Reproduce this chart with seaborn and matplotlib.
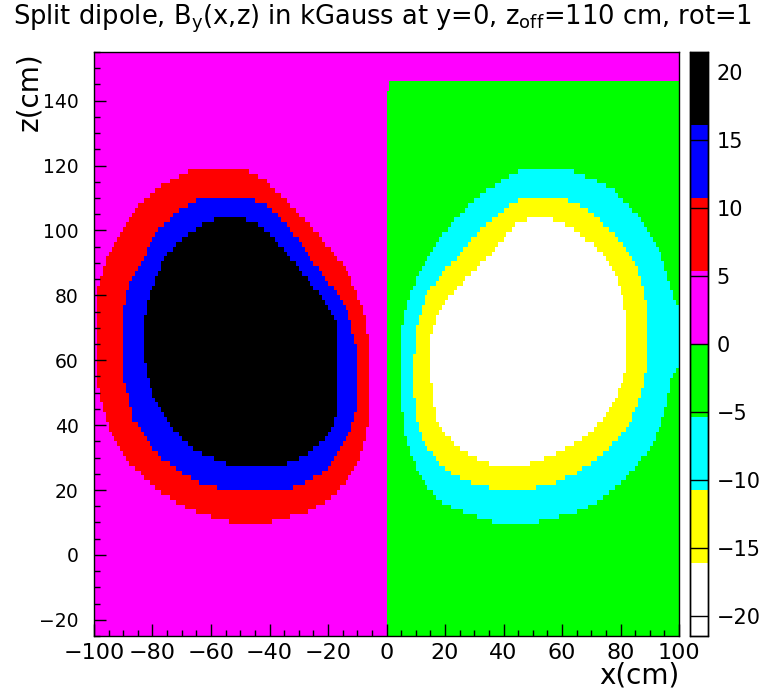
import numpy as np
import pandas as pd
import matplotlib
matplotlib.use("Agg")
import matplotlib.pyplot as plt
from matplotlib.colors import ListedColormap
from matplotlib.path import Path
from matplotlib.ticker import MultipleLocator
import seaborn as sns

# ---- data ----------------------------------------------------------------
# colour bands of the palette (from -21.44 to 21.44 kGauss, 8 equal bands)
b_min, b_max = -21.44, 21.44
band_colors = ["#ffffff", "#ffff00", "#00ffff", "#00ff00",
               "#ff00ff", "#ff0000", "#0000ff", "#000000"]
band_values = [-18.76, -13.40, -8.04, -2.68, 2.68, 8.04, 13.40, 18.76]

# binning of the map (cm)
x_range = (-100.0, 100.0)
z_range = (-25.0, 155.0)
x_binwidth = 1.0
z_binwidth = 1.5

# top of the negative (green) half, above it the field is back to 0..5
green_top_z = 146.0
green_top_z_first_col = 143.0

# contour outlines (x, z) in cm, left lobe (positive field)
outline_red = [(-61.5, 119.7), (-52.4, 119.7), (-47.8, 118.5), (-42.1, 115.9), (-37.6, 111.8),
               (-33.0, 108.1), (-28.4, 103.5), (-22.7, 98.3), (-19.3, 94.1), (-14.8, 89.5),
               (-11.3, 83.2), (-9.1, 78.1), (-7.4, 73.9), (-6.2, 66.6), (-5.6, 59.4),
               (-5.6, 43.8), (-6.8, 38.7), (-7.9, 32.4), (-10.2, 28.3), (-13.6, 23.1),
               (-17.0, 19.0), (-21.6, 15.9), (-27.3, 13.3), (-33.0, 11.7), (-39.8, 10.1),
               (-53.5, 10.1), (-61.5, 12.2), (-69.5, 14.8), (-76.3, 19.0), (-82.0, 23.1),
               (-86.6, 27.2), (-91.1, 32.4), (-94.5, 38.7), (-96.8, 44.9), (-98.5, 51.1),
               (-99.3, 59.4), (-99.3, 80.1), (-98.0, 85.3), (-95.7, 91.5), (-93.4, 95.7),
               (-90.0, 100.9), (-86.6, 106.0), (-82.0, 110.2), (-77.4, 113.3), (-72.9, 115.9),
               (-67.2, 118.5)]
outline_blue = [(-62.6, 110.2), (-55.8, 110.7), (-49.0, 110.7), (-44.4, 109.2), (-39.8, 107.1),
                (-35.3, 102.9), (-30.7, 97.8), (-27.3, 92.6), (-22.7, 87.4), (-18.2, 82.2),
                (-14.8, 78.1), (-12.5, 72.9), (-11.3, 67.7), (-10.2, 63.5), (-10.2, 44.9),
                (-11.3, 40.7), (-13.6, 36.6), (-17.0, 30.4), (-20.5, 26.2), (-26.2, 23.1),
                (-33.0, 20.5), (-42.1, 19.5), (-50.1, 19.5), (-56.9, 20.5), (-64.9, 22.6),
                (-71.7, 26.2), (-77.4, 30.4), (-82.0, 35.5), (-86.6, 41.8), (-88.3, 49.0),
                (-90.0, 55.2), (-90.5, 59.4), (-90.5, 73.9), (-88.8, 80.1), (-87.7, 84.3),
                (-85.4, 88.4), (-83.1, 91.5), (-80.3, 96.7), (-77.4, 100.9), (-73.5, 104.0),
                (-69.5, 107.1), (-65.5, 109.2)]
outline_black = [(-58.1, 103.5), (-49.0, 103.5), (-44.4, 101.9), (-39.8, 98.8), (-35.3, 94.6),
                 (-31.9, 90.5), (-27.3, 85.3), (-22.7, 80.1), (-19.3, 76.0), (-17.0, 70.8),
                 (-16.5, 65.6), (-16.5, 44.9), (-18.2, 39.7), (-20.5, 36.6), (-25.0, 32.4),
                 (-30.7, 29.3), (-37.6, 27.2), (-50.1, 27.2), (-56.9, 28.8), (-63.8, 31.4),
                 (-69.5, 35.5), (-74.0, 39.7), (-77.4, 44.9), (-79.7, 49.0), (-81.4, 54.2),
                 (-82.6, 59.4), (-83.1, 69.8), (-82.0, 77.0), (-79.7, 83.2), (-77.4, 88.4),
                 (-74.0, 93.6), (-70.6, 96.7), (-66.0, 99.8), (-62.1, 102.4)]

# right lobe (negative field)
outline_cyan = [(50.2, 119.7), (60.5, 119.7), (65.0, 118.0), (71.9, 115.4), (77.6, 112.3),
                (81.0, 109.2), (85.5, 105.0), (89.0, 100.9), (92.4, 95.7), (94.6, 90.5),
                (96.4, 85.3), (98.1, 80.1), (100.5, 73.9), (100.5, 59.4), (97.5, 54.2),
                (95.8, 47.0), (93.5, 39.7), (91.2, 34.5), (87.8, 30.4), (83.3, 25.2),
                (78.7, 21.0), (73.0, 16.9), (67.3, 13.8), (60.5, 12.2), (51.3, 10.1),
                (36.5, 10.1), (30.8, 11.7), (24.0, 13.8), (19.4, 15.9), (14.9, 20.0),
                (11.5, 24.1), (8.6, 30.4), (6.3, 36.6), (5.5, 43.8), (4.8, 53.2),
                (4.8, 59.4), (5.5, 70.8), (6.9, 77.0), (8.6, 81.2), (10.3, 85.3),
                (12.6, 89.5), (16.0, 94.6), (19.4, 98.8), (24.0, 104.0), (28.6, 108.1),
                (32.0, 111.2), (37.7, 114.3), (44.5, 118.0)]
outline_yellow = [(49.6, 110.7), (58.2, 110.7), (63.9, 108.6), (69.6, 106.0), (74.1, 101.9),
                  (78.7, 97.8), (83.3, 92.6), (85.5, 88.4), (87.2, 84.3), (88.4, 79.1),
                  (88.9, 74.9), (88.9, 57.3), (87.8, 52.1), (85.5, 45.9), (83.3, 40.7),
                  (79.8, 36.6), (75.3, 32.4), (69.6, 28.3), (65.0, 25.2), (55.9, 21.5),
                  (49.1, 20.5), (35.4, 20.5), (29.7, 22.1), (24.0, 24.1), (18.3, 28.3),
                  (13.7, 33.5), (10.9, 38.7), (9.7, 44.9), (9.4, 51.1), (9.4, 61.5),
                  (10.3, 69.8), (12.0, 76.0), (13.7, 80.1), (17.2, 84.3), (20.6, 88.4),
                  (24.0, 91.5), (28.6, 96.7), (32.0, 99.8), (36.5, 104.0), (41.1, 107.1),
                  (44.5, 109.2)]
outline_white = [(49.1, 103.5), (55.9, 103.5), (60.5, 101.9), (66.2, 98.8), (70.7, 95.7),
                 (74.1, 92.6), (77.6, 87.4), (79.8, 82.2), (81.5, 76.0), (82.1, 72.9),
                 (82.1, 59.4), (81.0, 54.2), (78.7, 49.0), (76.4, 44.9), (73.0, 40.7),
                 (68.4, 36.6), (62.7, 33.5), (55.9, 30.4), (49.1, 28.3), (38.8, 27.0),
                 (32.0, 29.3), (25.1, 32.4), (20.6, 36.6), (17.2, 41.8), (16.0, 46.9),
                 (15.4, 54.2), (15.4, 67.7), (17.2, 72.9), (19.4, 77.0), (22.9, 81.2),
                 (27.4, 85.3), (32.0, 89.5), (36.5, 93.6), (41.1, 98.8), (44.5, 101.9)]

# ---- build the binned map from the outlines ------------------------------
x_edges = np.arange(x_range[0], x_range[1] + 0.5 * x_binwidth, x_binwidth)
z_edges = np.arange(z_range[0], z_range[1] + 0.5 * z_binwidth, z_binwidth)
xc = 0.5 * (x_edges[:-1] + x_edges[1:])
zc = 0.5 * (z_edges[:-1] + z_edges[1:])
X, Z = np.meshgrid(xc, zc, indexing="ij")
pts = np.column_stack([X.ravel(), Z.ravel()])

band = np.where(X < 0, 4, 3).ravel()
top = ((X > 0) & (Z > green_top_z)) | ((X > 0) & (X < 1) & (Z > green_top_z_first_col))
band[top.ravel()] = 4
for idx, outline in [(5, outline_red), (6, outline_blue), (7, outline_black),
                     (2, outline_cyan), (1, outline_yellow), (0, outline_white)]:
    band[Path(outline, closed=False).contains_points(pts)] = idx

df = pd.DataFrame({"x": pts[:, 0], "z": pts[:, 1],
                   "B": np.asarray(band_values)[band]})

# ---- plot -----------------------------------------------------------------
sns.set_style("ticks")
plt.rcParams["font.family"] = ["DejaVu Sans"]
plt.rcParams["axes.linewidth"] = 1.0
plt.rcParams["axes.axisbelow"] = False
plt.rcParams["text.color"] = "black"
plt.rcParams["axes.labelcolor"] = "black"

W, H = 765, 696
fig = plt.figure(figsize=(W / 100, H / 100), dpi=100)
ax = fig.add_axes([94 / W, 1 - 636 / H, 585 / W, 584 / H])
cax = fig.add_axes([690 / W, 1 - 636 / H, 18 / W, 584 / H])

cmap = ListedColormap(band_colors)
sns.histplot(data=df, x="x", y="z", weights="B", bins=(x_edges, z_edges),
             stat="count", thresh=None, cmap=cmap, vmin=b_min, vmax=b_max,
             cbar=True, cbar_ax=cax, ax=ax)

ax.set_axisbelow(False)
ax.set_xlim(*x_range)
ax.set_ylim(*z_range)
ax.xaxis.set_major_locator(MultipleLocator(20))
ax.xaxis.set_minor_locator(MultipleLocator(5))
ax.yaxis.set_major_locator(MultipleLocator(20))
ax.yaxis.set_minor_locator(MultipleLocator(5))
ax.tick_params(which="both", direction="in", top=False, right=False,
               colors="black", width=1)
ax.tick_params(axis="y", which="both", pad=11, labelsize=13.5)
ax.tick_params(axis="x", which="both", pad=5, labelsize=16)
ax.tick_params(which="major", length=8.6)
ax.tick_params(which="minor", length=4.3)
for s in ax.spines.values():
    s.set_color("black")
    s.set_visible(True)

ax.set_xlabel("x(cm)", fontsize=20, loc="right", va="top", color="black")
ax.xaxis.set_label_coords(1.0, -0.043)
ax.set_ylabel("z(cm)", fontsize=20, loc="top", color="black")
ax.yaxis.set_label_coords(-0.087, 1.0)

cax.set_axisbelow(False)
cax.set_yticks(np.arange(-20, 21, 5))
cax.tick_params(direction="in", length=13, width=1, colors="black",
                labelsize=15, pad=6, right=True, left=False)
cax.minorticks_off()
for s in cax.spines.values():
    s.set_color("black")
    s.set_linewidth(1.0)
    s.set_visible(True)

fig.text(0.5, 1 - 19 / H, r"Split dipole, B$_{\mathrm{y}}$(x,z) in kGauss at y=0, "
         r"z$_{\mathrm{off}}$=110 cm, rot=1", ha="center", va="center",
         fontsize=18.5, color="black")

fig.savefig("out.png", dpi=100)
